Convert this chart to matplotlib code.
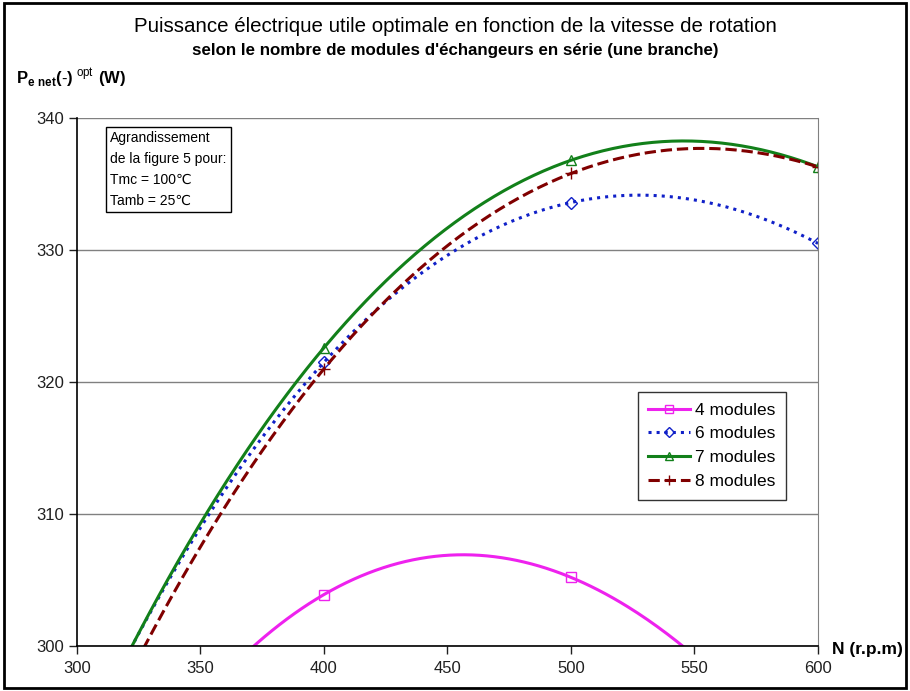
import numpy as np
import matplotlib
matplotlib.use('Agg')
import matplotlib.pyplot as plt
from matplotlib.patches import Rectangle

plt.rcParams['font.family'] = ['Liberation Sans', 'DejaVu Sans']
plt.rcParams['mathtext.fontset'] = 'custom'
plt.rcParams['mathtext.rm'] = 'Liberation Sans'
plt.rcParams['mathtext.bf'] = 'Liberation Sans:bold'

# vitesse de rotation (r.p.m) et puissance (W) par nombre de modules
speeds = [300, 400, 500, 600]
p_4 = [282.5, 303.9, 305.2, 289.4]
p_6 = [291.7, 321.5, 333.6, 330.5]
p_7 = [291.5, 322.6, 336.8, 336.3]
p_8 = [289.6, 321.0, 335.8, 336.3]
labels = ['4 modules', '6 modules', '7 modules', '8 modules']

series = [p_4, p_6, p_7, p_8]
colors = ['#EE22EE', '#1020C8', '#12801A', '#800000']
styles = ['-', ':', '-', '--']
markers = ['s', 'D', '^', '+']
msizes = [7, 6, 7, 9]

fig = plt.figure(figsize=(9.1, 6.91), dpi=100)
ax = fig.add_axes([0.0846, 0.0651, 0.8143, 0.7641])

# courbe lissee (polynome par les points) avec marqueurs aux points mesures
xs = np.linspace(speeds[0], speeds[-1], 301)
marks = [list(xs).index(v) for v in speeds]
for ys, c, ls, mk, ms, lab in zip(series, colors, styles, markers, msizes, labels):
    coef = np.polyfit(speeds, ys, 3)
    ax.plot(xs, np.polyval(coef, xs), color=c, ls=ls, lw=2.2,
            marker=mk, markevery=marks, ms=ms, mfc='none', mec=c, mew=1.0,
            label=lab)

ax.set_xlim(300, 600)
ax.set_ylim(300, 340)
ax.set_xticks([300, 350, 400, 450, 500, 550, 600])
ax.set_yticks([300, 310, 320, 330, 340])
ax.yaxis.grid(True, color='#808080', lw=1)
ax.set_axisbelow(True)
ax.tick_params(labelsize=12, length=6, width=1, colors='#202020', pad=3)
ax.tick_params(axis='x', pad=5)

for side in ['left', 'bottom']:
    ax.spines[side].set_color('black')
    ax.spines[side].set_linewidth(1.2)
ax.spines['right'].set_color('#808080')
ax.spines['top'].set_visible(False)

leg = ax.legend(loc='upper left', bbox_to_anchor=(0.757, 0.481), fontsize=12.5,
                frameon=True, fancybox=False, edgecolor='black',
                handlelength=2.4, handletextpad=0.3, labelspacing=0.5,
                borderpad=0.6, borderaxespad=0, markerscale=0.85)
leg.get_frame().set_linewidth(1.0)

ax.text(0.045, 0.975, 'Agrandissement\nde la figure 5 pour:\nTmc = 100\u2103\nTamb = 25\u2103',
        transform=ax.transAxes, ha='left', va='top', fontsize=10, linespacing=1.62,
        bbox=dict(boxstyle='square,pad=0.3', fc='white', ec='black', lw=1))

fig.text(0.5, 0.961, 'Puissance électrique utile optimale en fonction de la vitesse de rotation',
         ha='center', va='center', fontsize=14.8)
fig.text(0.5, 0.927, "selon le nombre de modules d'échangeurs en série (une branche)",
         ha='center', va='center', fontsize=12.2, fontweight='bold')
fig.text(0.018, 0.886, r'$\mathbf{P}_{\mathbf{e\ net}}\mathbf{(\text{-})}^{\ \mathrm{opt}}\mathbf{\ (W)}$',
         ha='left', va='center', fontsize=12)
fig.text(0.914, 0.060, 'N (r.p.m)', ha='left', va='center', fontsize=12.5, fontweight='bold')

fig.patches.append(Rectangle((0.004, 0.004), 0.992, 0.992, transform=fig.transFigure,
                             fill=False, ec='black', lw=2))

fig.savefig('out.png', dpi=100)
